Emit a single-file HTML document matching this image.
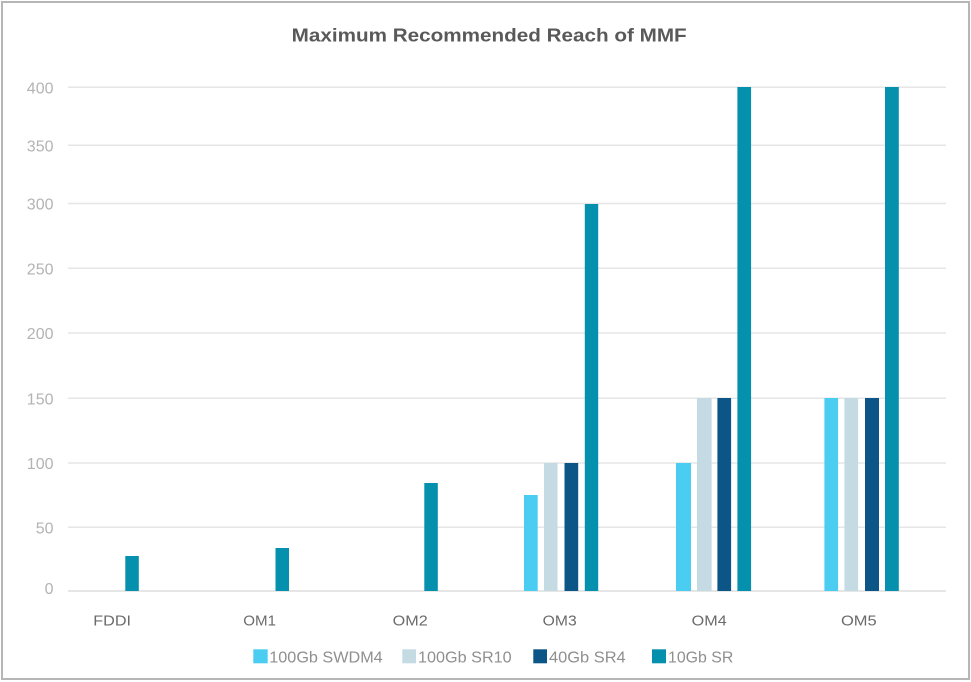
<!DOCTYPE html>
<html>
<head>
<meta charset="utf-8">
<style>
  html, body { margin: 0; padding: 0; background: #ffffff; }
  svg { display: block; }
  text { font-family: "Liberation Sans", Arial, sans-serif; }
</style>
</head>
<body>
<svg width="971" height="682" viewBox="0 0 971 682" xmlns="http://www.w3.org/2000/svg">
  <rect x="0" y="0" width="971" height="682" fill="#ffffff"/>
  <rect x="2" y="2" width="967" height="677" fill="#ffffff" stroke="#b6b6b6" stroke-width="2"/>

  <!-- Title -->
  <text x="291.7" y="41.7" font-size="18" font-weight="bold" fill="#595959" textLength="395" lengthAdjust="spacingAndGlyphs">Maximum Recommended Reach of MMF</text>

  <!-- Gridlines -->
  <g stroke="#e6e6e6" stroke-width="1.5">
    <line x1="68" y1="87.3" x2="946" y2="87.3"/>
    <line x1="68" y1="145.3" x2="946" y2="145.3"/>
    <line x1="68" y1="203.5" x2="946" y2="203.5"/>
    <line x1="68" y1="268.3" x2="946" y2="268.3"/>
    <line x1="68" y1="333" x2="946" y2="333"/>
    <line x1="68" y1="398.3" x2="946" y2="398.3"/>
    <line x1="68" y1="463" x2="946" y2="463"/>
    <line x1="68" y1="527.3" x2="946" y2="527.3"/>
  </g>
  <line x1="68" y1="591" x2="946" y2="591" stroke="#dddddd" stroke-width="1.5"/>

  <!-- Y labels -->
  <g font-size="16" fill="#b3b3b3" text-anchor="end">
    <text x="53.5" y="93.3">400</text>
    <text x="53.5" y="151.3">350</text>
    <text x="53.5" y="209.5">300</text>
    <text x="53.5" y="274.3">250</text>
    <text x="53.5" y="339">200</text>
    <text x="53.5" y="404.3">150</text>
    <text x="53.5" y="469">100</text>
    <text x="53.5" y="533.3">50</text>
    <text x="53.5" y="594">0</text>
  </g>

  <!-- Bars -->
  <g>
    <!-- FDDI -->
    <rect x="125.3" y="556" width="13.5" height="35" fill="#0590ad"/>
    <!-- OM1 -->
    <rect x="275.5" y="548" width="13.5" height="43" fill="#0590ad"/>
    <!-- OM2 -->
    <rect x="424.3" y="483" width="13.5" height="108" fill="#0590ad"/>
    <!-- OM3 -->
    <rect x="524" y="495" width="13.7" height="96" fill="#4bcdf2"/>
    <rect x="544" y="463" width="13.5" height="128" fill="#c5dbe3"/>
    <rect x="564.5" y="463" width="13.7" height="128" fill="#0b5687"/>
    <rect x="584.8" y="204" width="13.4" height="387" fill="#0590ad"/>
    <!-- OM4 -->
    <rect x="676" y="463" width="15" height="128" fill="#4bcdf2"/>
    <rect x="697" y="398" width="14.6" height="193" fill="#c5dbe3"/>
    <rect x="717.4" y="398" width="13.7" height="193" fill="#0b5687"/>
    <rect x="737.4" y="87" width="13.7" height="504" fill="#0590ad"/>
    <!-- OM5 -->
    <rect x="824.4" y="398" width="13.7" height="193" fill="#4bcdf2"/>
    <rect x="844.4" y="398" width="13.7" height="193" fill="#c5dbe3"/>
    <rect x="865" y="398" width="14" height="193" fill="#0b5687"/>
    <rect x="885" y="87" width="13.8" height="504" fill="#0590ad"/>
  </g>

  <!-- X labels -->
  <g font-size="15" fill="#6b6b6b">
    <text x="93.3" y="625.3" textLength="37.7" lengthAdjust="spacingAndGlyphs">FDDI</text>
    <text x="243.3" y="625.3" textLength="32.7" lengthAdjust="spacingAndGlyphs">OM1</text>
    <text x="392.7" y="625.3" textLength="35" lengthAdjust="spacingAndGlyphs">OM2</text>
    <text x="542.7" y="625.3" textLength="34" lengthAdjust="spacingAndGlyphs">OM3</text>
    <text x="691.7" y="625.3" textLength="35" lengthAdjust="spacingAndGlyphs">OM4</text>
    <text x="841" y="625.3" textLength="35.7" lengthAdjust="spacingAndGlyphs">OM5</text>
  </g>

  <!-- Legend -->
  <rect x="253.3" y="649.3" width="14.4" height="14" fill="#4bcdf2"/>
  <rect x="402.3" y="649.3" width="13.7" height="14" fill="#c5dbe3"/>
  <rect x="533.3" y="649.3" width="13.7" height="14" fill="#0b5687"/>
  <rect x="652" y="649.3" width="14" height="14" fill="#0590ad"/>
  <g font-size="16" fill="#8f8f8f">
    <text x="269.3" y="662.7" textLength="113.4" lengthAdjust="spacingAndGlyphs">100Gb SWDM4</text>
    <text x="418" y="662.7" textLength="93.7" lengthAdjust="spacingAndGlyphs">100Gb SR10</text>
    <text x="549" y="662.7" textLength="76.7" lengthAdjust="spacingAndGlyphs">40Gb SR4</text>
    <text x="668" y="662.7" textLength="65.3" lengthAdjust="spacingAndGlyphs">10Gb SR</text>
  </g>
</svg>
</body>
</html>
